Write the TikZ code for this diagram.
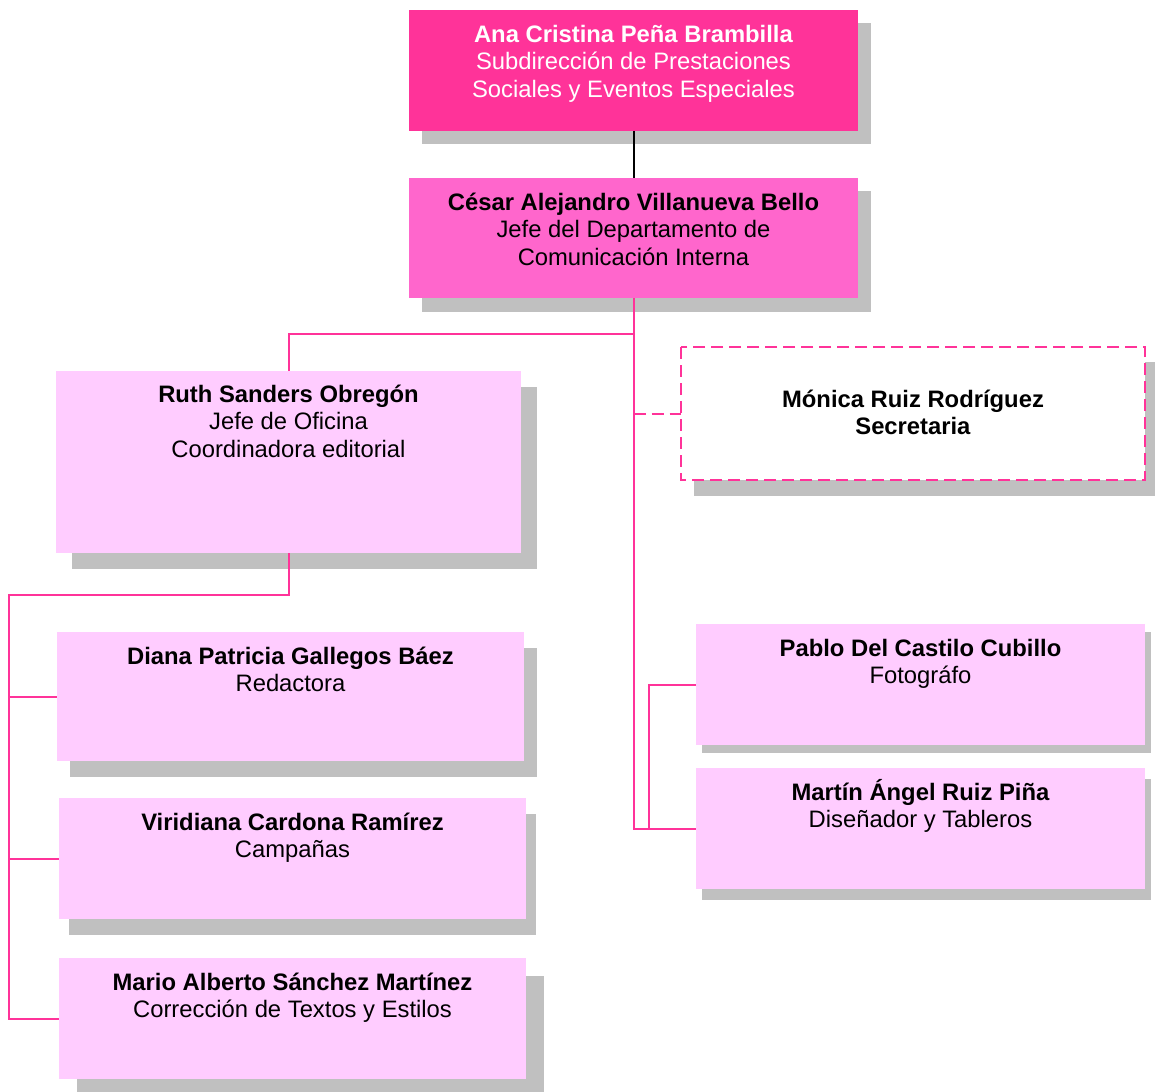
\documentclass[tikz,border=0pt]{standalone}
\usepackage{fontspec}
\setmainfont{Liberation Sans}
\definecolor{hotpink}{HTML}{FF3399}
\definecolor{midpink}{HTML}{FF66CC}
\definecolor{lightpink}{HTML}{FFCCFF}
\definecolor{shadowgray}{HTML}{C0C0C0}
\newcommand\orgstrut{\rule{0pt}{22pt}}
\tikzset{
  orgbox/.style={inner sep=0pt, outer sep=0pt, anchor=north west, draw=none},
  orgtext/.style={inner sep=0pt, anchor=north, align=center, font=\fontsize{23.8}{27.5}\selectfont},
  shade box/.style={fill=shadowgray, draw=none},
  pinkline/.style={draw=hotpink, line width=2pt},
  blackline/.style={draw=black, line width=2pt},
  dashline/.style={draw=hotpink, line width=2pt, dash pattern=on 12pt off 6pt}
}
\begin{document}
\begin{tikzpicture}[x=1pt,y=-1pt]
\useasboundingbox (0,0) rectangle (1155,1091);
% shadows
\fill[shade box] (422,23) rectangle (871,144);
\fill[shade box] (422,191) rectangle (871,312);
\fill[shade box] (72,387) rectangle (537,569);
\fill[shade box] (694,362) rectangle (1159,496);
\fill[shade box] (70,648) rectangle (537,777);
\fill[shade box] (69,814) rectangle (536,935);
\fill[shade box] (77,976) rectangle (544,1097);
\fill[shade box] (702,632) rectangle (1151,753);
\fill[shade box] (702,779) rectangle (1151,900);
% boxes
\node[orgbox, fill=hotpink, minimum width=449pt, minimum height=121pt] (ana) at (409,10) {};
\node[orgbox, fill=midpink, minimum width=449pt, minimum height=120pt] (cesar) at (409,178) {};
\node[orgbox, fill=lightpink, minimum width=465pt, minimum height=182pt] (ruth) at (56,371) {};
\node[orgbox, fill=white, minimum width=464pt, minimum height=133pt] (monica) at (681,347) {};
\draw[dashline] (monica.north west) rectangle (monica.south east);
\node[orgbox, fill=lightpink, minimum width=467pt, minimum height=129pt] (diana) at (57,632) {};
\node[orgbox, fill=lightpink, minimum width=467pt, minimum height=121pt] (viridiana) at (59,798) {};
\node[orgbox, fill=lightpink, minimum width=467pt, minimum height=121pt] (mario) at (59,958) {};
\node[orgbox, fill=lightpink, minimum width=449pt, minimum height=121pt] (pablo) at (696,624) {};
\node[orgbox, fill=lightpink, minimum width=449pt, minimum height=121pt] (martin) at (696,768) {};
% texts
\node[orgtext, text=white] (anaT) at ([yshift=-10pt]ana.north) {\orgstrut\textbf{Ana Cristina Peña Brambilla}\\Subdirección de Prestaciones\\Sociales y Eventos Especiales};
\node[orgtext] (cesarT) at ([yshift=-10pt]cesar.north) {\orgstrut\textbf{César Alejandro Villanueva Bello}\\Jefe del Departamento de\\Comunicación Interna};
\node[orgtext] (ruthT) at ([yshift=-9pt]ruth.north) {\orgstrut\textbf{Ruth Sanders Obregón}\\Jefe de Oficina\\Coordinadora editorial};
\node[orgtext] (monicaT) at ([yshift=-38pt]monica.north) {\orgstrut\textbf{Mónica Ruiz Rodríguez}\\\textbf{Secretaria}};
\node[orgtext] (dianaT) at ([yshift=-10pt]diana.north) {\orgstrut\textbf{Diana Patricia Gallegos Báez}\\Redactora};
\node[orgtext] (viridianaT) at ([yshift=-10pt]viridiana.north) {\orgstrut\textbf{Viridiana Cardona Ramírez}\\Campañas};
\node[orgtext] (marioT) at ([yshift=-10pt]mario.north) {\orgstrut\textbf{Mario Alberto Sánchez Martínez}\\Corrección de Textos y Estilos};
\node[orgtext] (pabloT) at ([yshift=-10pt]pablo.north) {\orgstrut\textbf{Pablo Del Castilo Cubillo}\\Fotográfo};
\node[orgtext] (martinT) at ([yshift=-10pt]martin.north) {\orgstrut\textbf{Martín Ángel Ruiz Piña}\\Diseñador y Tableros};
% connectors
\coordinate (j1) at (633.5,334);
\coordinate (pj) at (649,828.5);
\coordinate (rj) at (9,595);
\draw[blackline] (ana.south) -- (cesar.north);
\draw[pinkline] (cesar.south) |- (martin.west);
\draw[pinkline] (j1) -| (ruth.north);
\draw[dashline] (cesar.south |- monica.west) -- (monica.west);
\draw[pinkline] (pablo.west) -| (pj);
\draw[pinkline] (ruth.south) |- (rj) |- (mario.west);
\draw[pinkline] (rj |- diana.west) -- (diana.west);
\draw[pinkline] (rj |- viridiana.west) -- (viridiana.west);
\end{tikzpicture}
\end{document}
